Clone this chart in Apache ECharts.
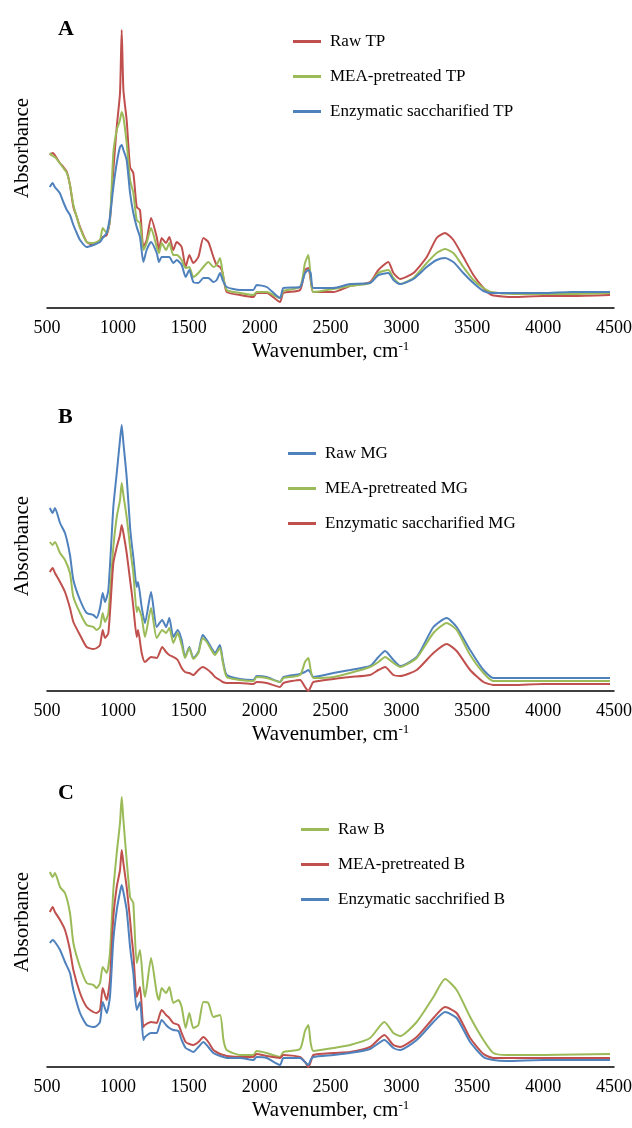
<!DOCTYPE html>
<html>
<head>
<meta charset="utf-8">
<script src="https://cdn.jsdelivr.net/npm/echarts@6/dist/echarts.min.js"></script>
<style>
html, body { margin: 0; padding: 0; background: #fff; }
#chart { width: 632px; height: 1128px; }
</style>
</head>
<body>
<div id="chart"></div>
<script>
// FTIR spectra, absorbance in arbitrary units
var wnA = [520,540,555,590,615,640,662,686,710,733,780,827,874,893,921,944,968,992,1015,1027,1039,1062,1086,1109,1133,1156,1180,1203,1234,1274,1290,1309,1340,1363,1391,1415,1450,1478,1504,1532,1568,1603,1638,1674,1697,1721,1739,1768,1862,1956,1979,2050,2144,2168,2285,2320,2344,2360,2379,2520,2638,2779,2838,2908,2944,2991,3085,3179,3249,3308,3367,3437,3508,3579,3637,3790,4000,4200,4472];
var rawTP = [153,155,153,145,141,136,123,101,91,81,66,63,68,71,73,88,138,181,215,278,218,188,141,135,101,98,61,68,90,71,58,70,65,71,58,66,61,41,53,45,51,70,66,51,43,41,35,16,13,11,15,15,6,15,18,38,40,28,16,16,22,26,38,46,35,29,35,51,70,75,68,51,33,20,13,11,12,12,13];
var meaTP = [155,152,151,145,140,135,123,103,91,80,66,65,68,80,75,88,155,178,188,196,191,165,128,115,88,85,58,65,80,61,55,65,58,65,53,53,48,40,41,31,35,41,46,41,43,50,35,18,15,13,16,16,10,17,21,45,53,31,16,19,22,25,35,38,30,24,30,45,55,59,55,41,28,20,16,14,14,14,15];
var enzTP = [121,125,121,115,106,98,93,83,75,68,61,63,66,70,75,91,121,145,161,163,158,148,115,95,81,71,46,58,66,55,46,51,51,51,45,48,43,31,38,26,25,30,30,26,28,35,28,21,18,18,23,21,10,20,21,35,38,35,20,20,24,25,33,35,28,24,29,41,48,50,46,35,25,17,15,15,15,16,16];

var wnB = [520,540,556,592,627,662,686,733,780,827,850,874,893,909,933,968,992,1015,1027,1039,1062,1086,1097,1109,1133,1142,1168,1191,1234,1274,1313,1340,1363,1391,1422,1450,1474,1504,1532,1568,1598,1627,1660,1685,1720,1740,1768,1862,1956,1979,2050,2144,2168,2285,2320,2344,2360,2379,2520,2638,2779,2838,2885,2944,2991,3108,3226,3320,3390,3485,3579,3649,3790,4000,4472];
var rawMG = [183,178,183,168,158,136,111,91,78,76,73,83,98,89,101,184,218,251,266,248,214,164,148,134,104,109,84,68,99,64,71,64,73,54,61,51,34,44,33,39,56,51,43,38,46,31,16,12,11,15,14,9,14,17,19,21,18,14,18,21,25,34,40,31,25,34,64,73,64,41,21,13,13,13,13];
var meaMG = [149,146,149,138,131,118,94,78,66,64,61,64,78,69,78,144,174,191,208,196,174,144,131,118,79,84,74,54,83,53,61,58,63,48,58,46,33,43,32,38,53,49,41,36,43,29,14,11,10,14,13,9,13,16,29,33,21,13,14,18,24,29,34,28,24,33,58,68,61,36,18,10,10,10,10];
var enzMG = [119,123,118,109,99,83,69,56,44,42,43,46,61,53,58,128,144,156,166,158,138,111,99,84,54,61,38,29,34,33,44,39,36,34,31,23,19,18,16,21,24,22,18,14,11,9,8,8,7,9,8,4,8,11,4,0,4,9,12,14,16,21,24,16,15,21,38,47,40,21,9,6,6,7,7];

var wnC = [520,540,556,592,627,662,686,733,780,827,850,874,893,921,944,968,992,1015,1027,1039,1062,1086,1097,1109,1133,1156,1180,1191,1234,1274,1290,1309,1340,1363,1391,1427,1450,1478,1504,1532,1568,1603,1638,1674,1721,1745,1768,1862,1956,1979,2050,2144,2168,2285,2320,2344,2360,2379,2520,2638,2779,2880,2944,2991,3108,3226,3308,3390,3485,3579,3649,3743,4000,4472];
var rawB = [195,190,194,180,174,154,124,100,84,82,79,84,100,94,114,177,214,244,270,247,207,170,167,164,104,117,80,70,109,74,67,79,74,80,64,67,60,39,54,39,42,65,64,50,52,27,17,12,12,16,14,10,15,18,36,42,24,16,19,22,29,45,34,31,45,70,88,77,50,27,14,12,12,13];
var meaB = [155,160,155,147,137,117,97,74,60,55,54,57,79,67,87,150,180,197,217,204,180,147,130,114,70,80,40,42,45,44,50,57,52,49,44,42,34,25,23,22,25,30,25,17,13,12,11,10,10,13,11,9,12,10,5,0,5,12,14,15,20,32,22,20,30,49,60,54,29,13,9,9,9,9];
var enzB = [124,127,125,117,105,94,77,54,42,40,41,45,65,54,70,127,157,175,182,175,157,120,107,94,57,65,27,30,34,34,40,47,42,39,37,36,27,19,17,15,20,25,20,14,11,10,9,9,7,10,9,2,9,9,5,2,7,10,12,14,18,27,19,17,27,45,55,49,25,10,7,6,7,7];

var xTicks = [500, 1000, 1500, 2000, 2500, 3000, 3500, 4000, 4500];

var RED = '#C0504D', GREEN = '#9BBB59', BLUE = '#4F81BD';
var FONT = 'Liberation Serif';

function pairs(x, y) {
    var out = [];
    for (var i = 0; i < x.length; i++) out.push([x[i], y[i]]);
    return out;
}

// one entry per panel
var panels = [
    { label: 'A', axisY: 308, labelTop: 13, legendLeft: 288, legendTop: 28, absPad: [0, 0, 0, 30],
      lines: [['Raw TP', wnA, rawTP, RED], ['MEA-pretreated TP', wnA, meaTP, GREEN], ['Enzymatic saccharified TP', wnA, enzTP, BLUE]] },
    { label: 'B', axisY: 691, labelTop: 401, legendLeft: 283, legendTop: 440, absPad: [0, 0, 0, 0],
      lines: [['Raw MG', wnB, rawMG, BLUE], ['MEA-pretreated MG', wnB, meaMG, GREEN], ['Enzymatic saccharified MG', wnB, enzMG, RED]] },
    { label: 'C', axisY: 1067, labelTop: 777, legendLeft: 296, legendTop: 816, absPad: [0, 0, 0, 0],
      lines: [['Raw B', wnC, rawB, GREEN], ['MEA-pretreated B', wnC, meaB, RED], ['Enzymatic sacchrified B', wnC, enzB, BLUE]] }
];

var plotH = 290;
var option = { animation: false, backgroundColor: '#fff', title: [], grid: [], xAxis: [], yAxis: [], legend: [], series: [] };

panels.forEach(function (p, k) {
    option.title.push({
        text: p.label, left: 53, top: p.labelTop,
        textStyle: { fontFamily: FONT, fontSize: 22, fontWeight: 'bold', color: '#000' }
    });
    option.grid.push({ left: 47, right: 18, top: p.axisY - plotH, height: plotH, outerBoundsMode: 'none', containLabel: false });
    option.xAxis.push({
        type: 'value', gridIndex: k, min: xTicks[0], max: xTicks[xTicks.length - 1], interval: 500,
        axisLine: { lineStyle: { color: '#000', width: 1.5 } },
        axisTick: { show: false }, splitLine: { show: false },
        axisLabel: { color: '#000', fontFamily: FONT, fontSize: 18, margin: 11,
            formatter: function (v) { return String(v); } },
        name: 'Wavenumber, cm{sup|-1}', nameLocation: 'middle', nameGap: 32,
        nameTextStyle: {
            color: '#000', fontFamily: FONT, fontSize: 21,
            rich: { sup: { fontFamily: FONT, fontSize: 13, verticalAlign: 'top', padding: [0, 0, 10, 0], color: '#000' } }
        }
    });
    option.yAxis.push({
        type: 'value', gridIndex: k, min: 0, max: plotH,
        axisLine: { show: false }, axisTick: { show: false }, axisLabel: { show: false }, splitLine: { show: false },
        name: 'Absorbance', nameLocation: 'middle', nameGap: 14,
        nameTextStyle: { color: '#000', fontFamily: FONT, fontSize: 21, padding: p.absPad }
    });
    option.legend.push({
        orient: 'vertical', left: p.legendLeft, top: p.legendTop, itemGap: 18,
        itemWidth: 28, itemHeight: 3, icon: 'rect',
        textStyle: { fontFamily: FONT, fontSize: 17, color: '#000', padding: [0, 0, 0, 4] },
        data: p.lines.map(function (l) { return l[0]; })
    });
    p.lines.forEach(function (l) {
        option.series.push({
            name: l[0], type: 'line', xAxisIndex: k, yAxisIndex: k,
            data: pairs(l[1], l[2]), showSymbol: false, smooth: 0.2,
            color: l[3], lineStyle: { width: 2, color: l[3] }
        });
    });
});

var chart = echarts.init(document.getElementById('chart'));
chart.setOption(option);
</script>
</body>
</html>
